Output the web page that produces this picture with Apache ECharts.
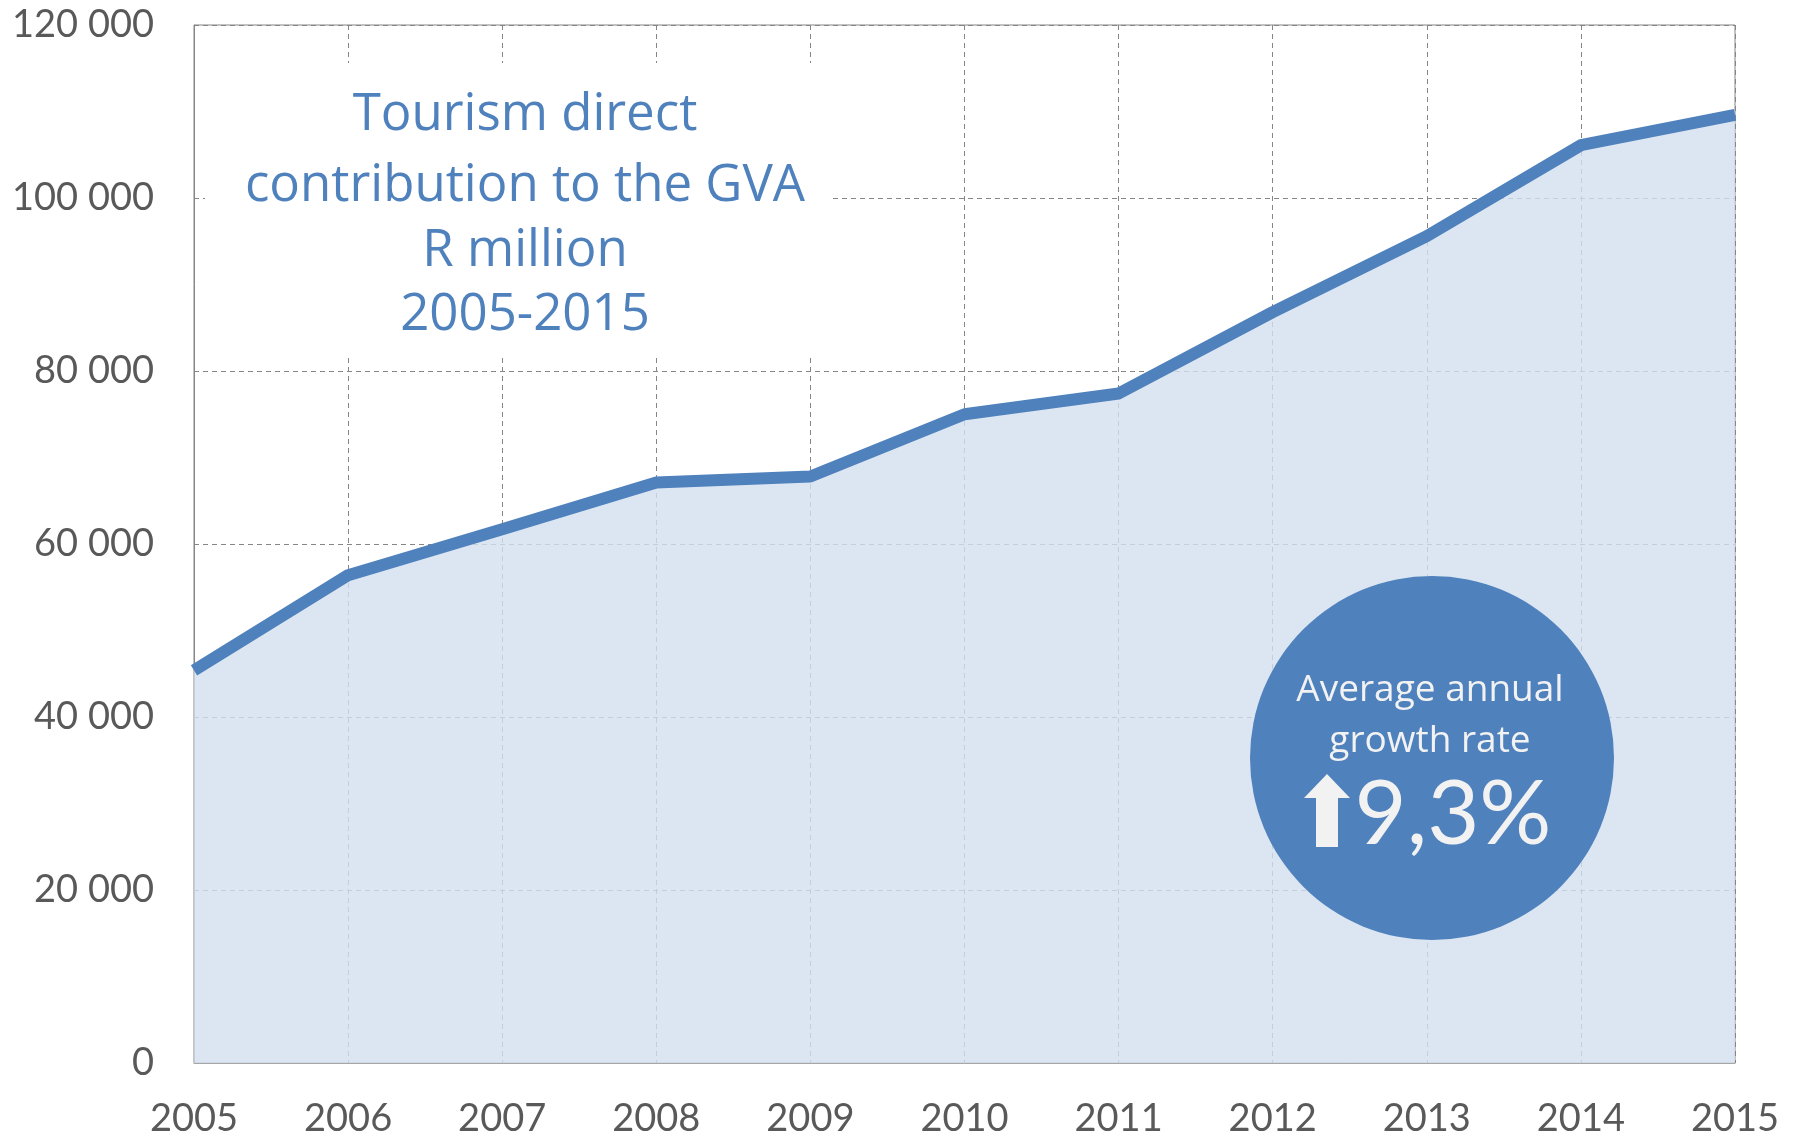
<!DOCTYPE html>
<html>
<head>
<meta charset="utf-8">
<title>Tourism direct contribution to the GVA</title>
<script src="https://cdn.jsdelivr.net/npm/echarts@6/dist/echarts.min.js"></script>
<style>
  html, body { margin: 0; padding: 0; background: #fff; }
  #chart { width: 1802px; height: 1141px; }
</style>
</head>
<body>
<div id="chart"></div>
<script>
// values (R million)
const years = ['2005', '2006', '2007', '2008', '2009', '2010', '2011', '2012', '2013', '2014', '2015'];
const gva = [45400, 56400, 61700, 67100, 67800, 75000, 77400, 86800, 95600, 106100, 109600];
const yMin = 0;
const yMax = 120000;
const yStep = 20000;
const titleLines = ['Tourism direct', 'contribution to the GVA', 'R million', '2005-2015'];
const badgeLines = ['Average annual', 'growth rate'];
const growthRate = '9,3%';

const FONT = 'Lato';
const TEXT_FONT = '"Open Sans"';
const BLUE = '#4F81BD';
const GRID_LINE = { type: [5, 4], color: '#868686', width: 1 };

function spaced (v) {
  return String(v).replace(/\B(?=(\d{3})+(?!\d))/g, ' ');
}

const chart = echarts.init(document.getElementById('chart'));

// line centres of the title block
const titleY = [115, 186, 251, 315];
const titleGraphics = [
  { type: 'rect', z: 50, shape: { x: 205, y: 63, width: 628, height: 295 }, style: { fill: '#fff' } }
].concat(titleLines.map((t, i) => ({
  type: 'text', z: 51, x: 525, y: titleY[i],
  style: { text: t, fill: BLUE, font: '51px ' + TEXT_FONT, textAlign: 'center', textVerticalAlign: 'middle' }
})));

const badgeGraphics = [
  { type: 'circle', z: 60, shape: { cx: 1432, cy: 758, r: 182 }, style: { fill: BLUE } },
  {
    type: 'polygon', z: 61,
    shape: { points: [[1327, 774], [1350, 798], [1338, 798], [1338, 847], [1316, 847], [1316, 798], [1304, 798]] },
    style: { fill: '#F2F2F2' }
  },
  {
    type: 'text', z: 61, x: 1453, y: 815,
    style: { text: growthRate, fill: '#F2F2F2', font: '90px ' + FONT, textAlign: 'center', textVerticalAlign: 'middle' }
  }
].concat(badgeLines.map((t, i) => ({
  type: 'text', z: 61, x: 1430, y: 690 + i * 51,
  style: { text: t, fill: '#F2F2F2', font: '37px ' + TEXT_FONT, textAlign: 'center', textVerticalAlign: 'middle' }
})));

chart.setOption({
  animation: false,
  grid: {
    left: 194,
    right: 67,
    top: 25,
    bottom: 78,
    show: true,
    borderColor: '#868686',
    borderWidth: 1
  },
  xAxis: {
    type: 'category',
    data: years,
    boundaryGap: false,
    axisTick: { show: false },
    axisLine: { lineStyle: { color: '#A6A6A6', width: 1 } },
    axisLabel: { color: '#595959', fontFamily: FONT, fontSize: 38, margin: 37 },
    splitLine: { show: true, lineStyle: GRID_LINE }
  },
  yAxis: {
    type: 'value',
    min: yMin,
    max: yMax,
    interval: yStep,
    axisTick: { show: false },
    axisLine: { show: true, lineStyle: { color: '#868686', width: 1 } },
    axisLabel: { color: '#595959', fontFamily: FONT, fontSize: 38, margin: 40, formatter: spaced },
    splitLine: { lineStyle: GRID_LINE }
  },
  series: [{
    type: 'line',
    data: gva,
    symbol: 'none',
    lineStyle: { color: BLUE, width: 12, join: 'round' },
    areaStyle: { color: 'rgba(211,224,239,0.8)', opacity: 1 }
  }],
  graphic: titleGraphics.concat(badgeGraphics)
});
</script>
</body>
</html>
